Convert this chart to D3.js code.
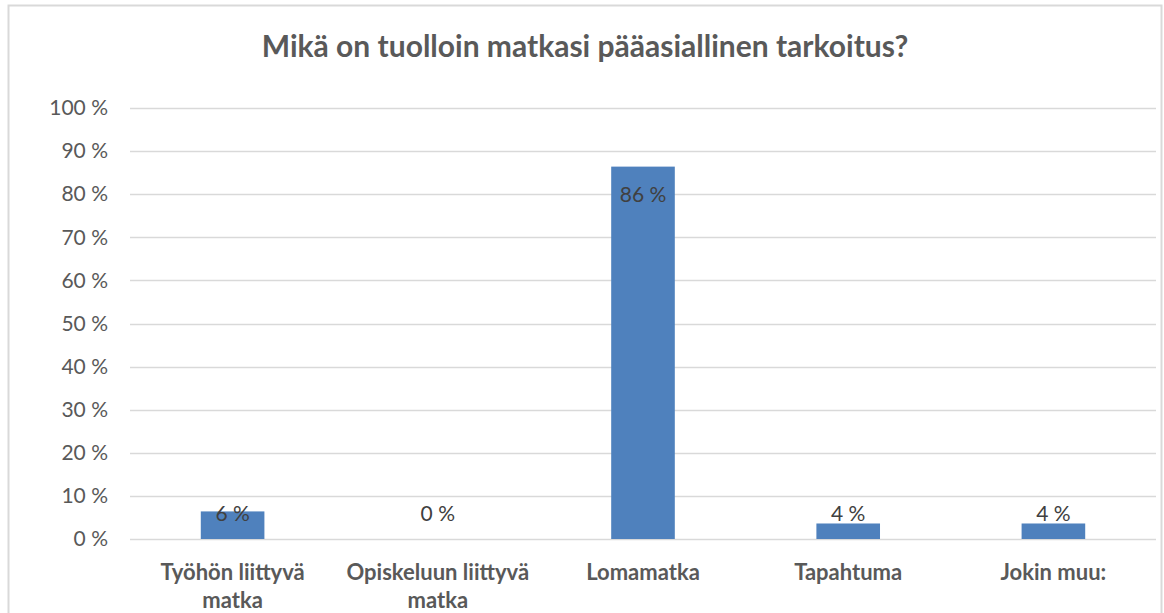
<!DOCTYPE html>
<html>
<head>
<meta charset="utf-8">
<script src="https://cdn.jsdelivr.net/npm/d3@7"></script>
<style>
  body { margin: 0; background: #fff; }
  svg { font-family: Lato, "Open Sans", sans-serif; }
</style>
</head>
<body>
<div id="container"></div>
<script>
const title = "Mikä on tuolloin matkasi pääasiallinen tarkoitus?";
const categories = [["Työhön liittyvä", "matka"], ["Opiskeluun liittyvä", "matka"], ["Lomamatka"], ["Tapahtuma"], ["Jokin muu:"]];
const values = [6.4, 0, 86.4, 3.6, 3.6];
const yTicks = [0, 10, 20, 30, 40, 50, 60, 70, 80, 90, 100];

const W = 1164, H = 613;
const margin = {top: 108, right: 8, bottom: 74, left: 130};
const width = 1156 - margin.left, height = 539 - margin.top;

const svg = d3.select("#container")
  .append("svg")
  .attr("width", W)
  .attr("height", H);

// chart frame
svg.append("rect")
  .attr("x", 8.5).attr("y", 5.5)
  .attr("width", 1153).attr("height", 640)
  .attr("fill", "#fff")
  .attr("stroke", "#d9d9d9")
  .attr("stroke-width", 2);

svg.append("text")
  .attr("x", 585)
  .attr("y", 57)
  .attr("text-anchor", "middle")
  .attr("font-size", 30)
  .attr("font-weight", "bold")
  .attr("fill", "#595959")
  .text(title);

const g = svg.append("g")
  .attr("transform", `translate(${margin.left},${margin.top})`);

const x = d3.scaleBand()
  .domain(d3.range(categories.length))
  .range([0, width]);

const y = d3.scaleLinear()
  .domain([0, 100])
  .range([height, 0]);

// gridlines
g.append("g")
  .selectAll("line")
  .data(yTicks)
  .join("line")
  .attr("x1", 0)
  .attr("x2", width)
  .attr("y1", d => Math.round(y(d)) + 0.5)
  .attr("y2", d => Math.round(y(d)) + 0.5)
  .attr("stroke", "#d9d9d9")
  .attr("stroke-width", 1.3);

// y axis labels
const yAxis = g.append("g")
  .call(d3.axisLeft(y).tickValues(yTicks).tickSize(0).tickPadding(22).tickFormat(d => d + " %"));
yAxis.select(".domain").remove();
yAxis.selectAll("text")
  .attr("font-size", 21)
  .attr("font-family", "Lato, sans-serif")
  .attr("fill", "#595959");

const barW = x.bandwidth() * 0.31;

g.selectAll("rect.bar")
  .data(values)
  .join("rect")
  .attr("class", "bar")
  .attr("x", (d, i) => x(i) + (x.bandwidth() - barW) / 2)
  .attr("y", d => y(d))
  .attr("width", barW)
  .attr("height", d => height - y(d))
  .attr("fill", "#4f81bd");

// data labels
g.selectAll("text.val")
  .data(values)
  .join("text")
  .attr("class", "val")
  .attr("x", (d, i) => x(i) + x.bandwidth() / 2)
  .attr("y", d => d > 50 ? y(d) + 35 : height - 18)
  .attr("text-anchor", "middle")
  .attr("font-size", 21)
  .attr("fill", "#404040")
  .text(d => Math.round(d) + " %");

// category labels
const xl = g.append("g")
  .selectAll("text")
  .data(categories)
  .join("text")
  .attr("x", (d, i) => x(i) + x.bandwidth() / 2)
  .attr("y", height + 41)
  .attr("text-anchor", "middle")
  .attr("font-size", 22)
  .attr("font-weight", "bold")
  .attr("fill", "#595959");

xl.selectAll("tspan")
  .data(d => d)
  .join("tspan")
  .attr("x", function() { return this.parentNode.getAttribute("x"); })
  .attr("dy", (d, i) => i === 0 ? 0 : 28)
  .text(d => d);
</script>
</body>
</html>
